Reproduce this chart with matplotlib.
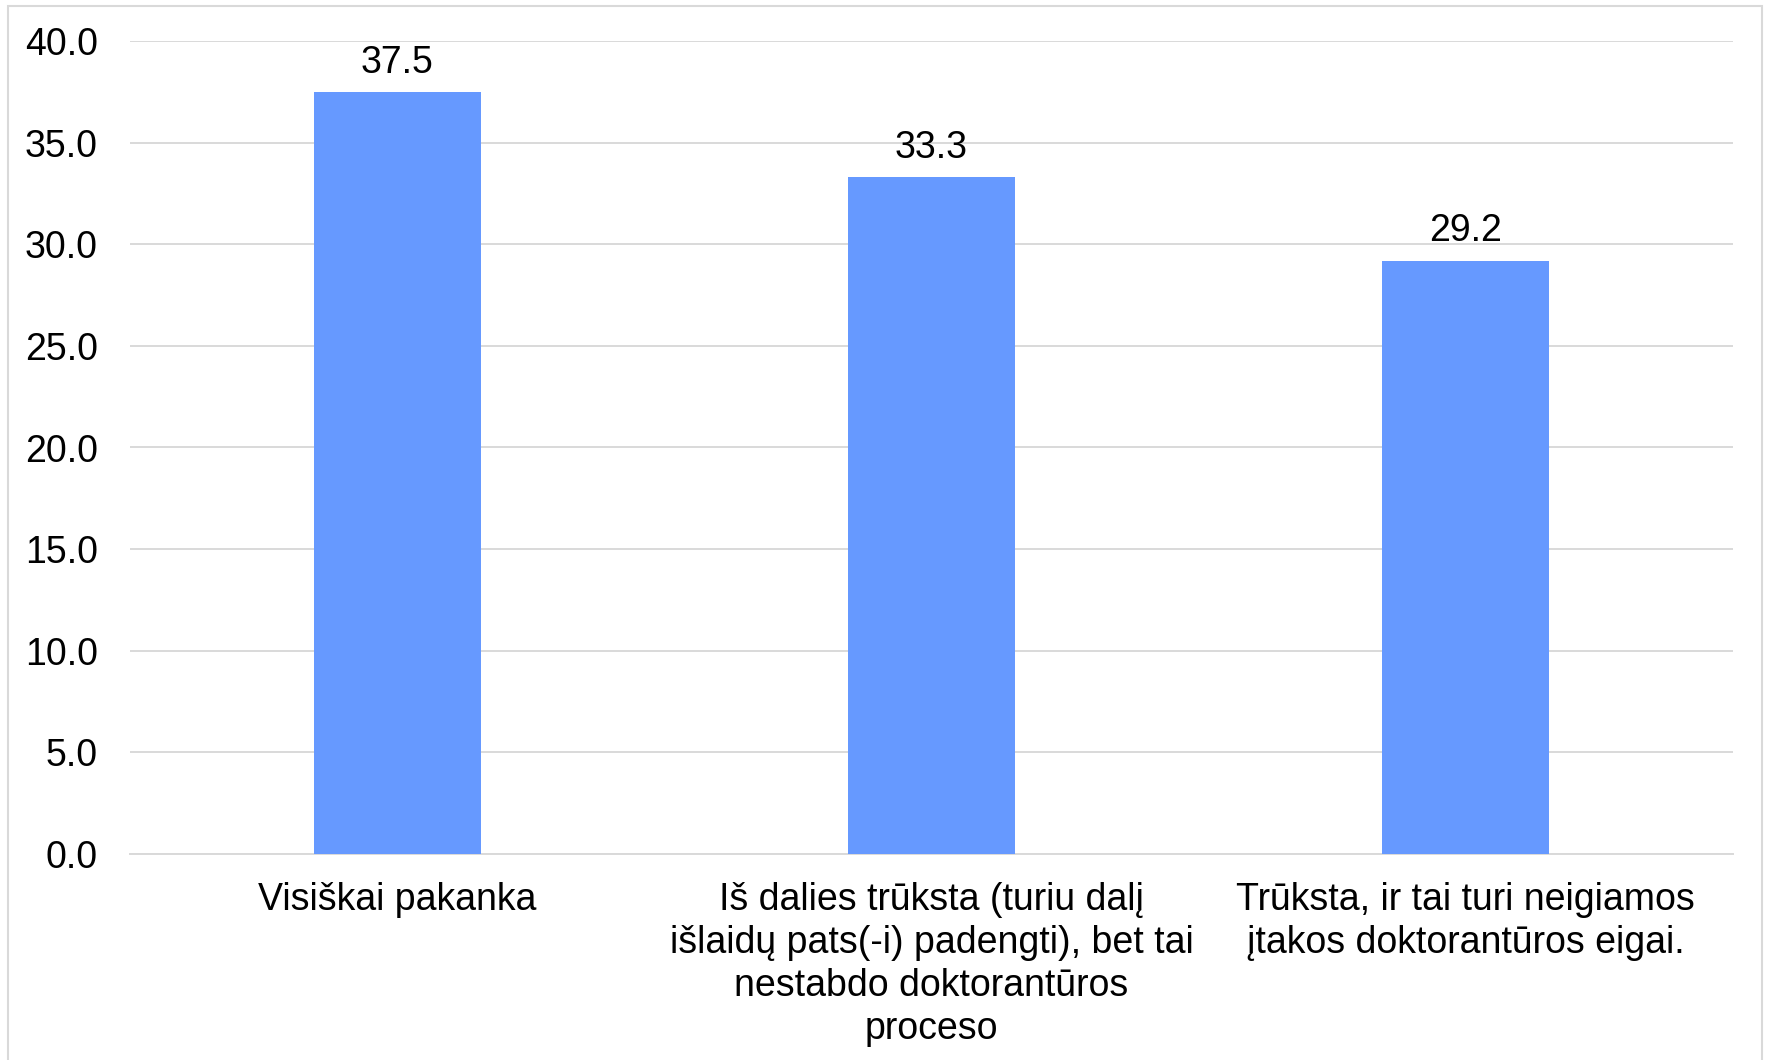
import matplotlib
matplotlib.use("Agg")
import matplotlib.pyplot as plt
from matplotlib.patches import Rectangle

# data
categories = [
    "Visiškai pakanka",
    "Iš dalies trūksta (turiu dalį\nišlaidų pats(-i) padengti), bet tai\nnestabdo doktorantūros\nproceso",
    "Trūksta, ir tai turi neigiamos\nįtakos doktorantūros eigai.",
]
values = [37.5, 33.3, 29.2]
yticks = [0, 5, 10, 15, 20, 25, 30, 35, 40]

plt.rcParams['font.family'] = ['Liberation Sans', 'DejaVu Sans']

fig = plt.figure(figsize=(17.7, 10.6), dpi=100)
ax = fig.add_axes([130 / 1770, 1 - 854 / 1060, (1733 - 130) / 1770, (854 - 41) / 1060])

x = range(len(categories))
bars = ax.bar(x, values, width=0.313, color='#6699ff', zorder=3)
ax.bar_label(bars, labels=[f"{v:.1f}" for v in values], padding=8, fontsize=27)

ax.set_xlim(-0.5, len(categories) - 0.5)
ax.set_ylim(0, 40)
ax.set_yticks(yticks)
ax.set_yticklabels([f"{t:.1f}" for t in yticks], fontsize=27)
ax.set_xticks(list(x))
ax.set_xticklabels(categories, fontsize=27, linespacing=1.25)
ax.tick_params(axis='y', length=0, pad=23)
ax.tick_params(axis='x', length=0, pad=20)

ax.grid(axis='y', color='#d9d9d9', linewidth=1.4, zorder=0)
ax.set_axisbelow(True)
for s in ['top', 'right', 'left']:
    ax.spines[s].set_visible(False)
ax.spines['bottom'].set_color('#d9d9d9')
ax.spines['bottom'].set_linewidth(1.4)

# light outer frame (bottom edge falls outside the image)
fig.patches.append(Rectangle((8 / 1770, -0.05), (1762 - 8) / 1770, 1.05 - 6 / 1060,
                             transform=fig.transFigure, fill=False,
                             edgecolor='#d9d9d9', linewidth=1.5))

fig.savefig("out.png", dpi=100, facecolor='white')
